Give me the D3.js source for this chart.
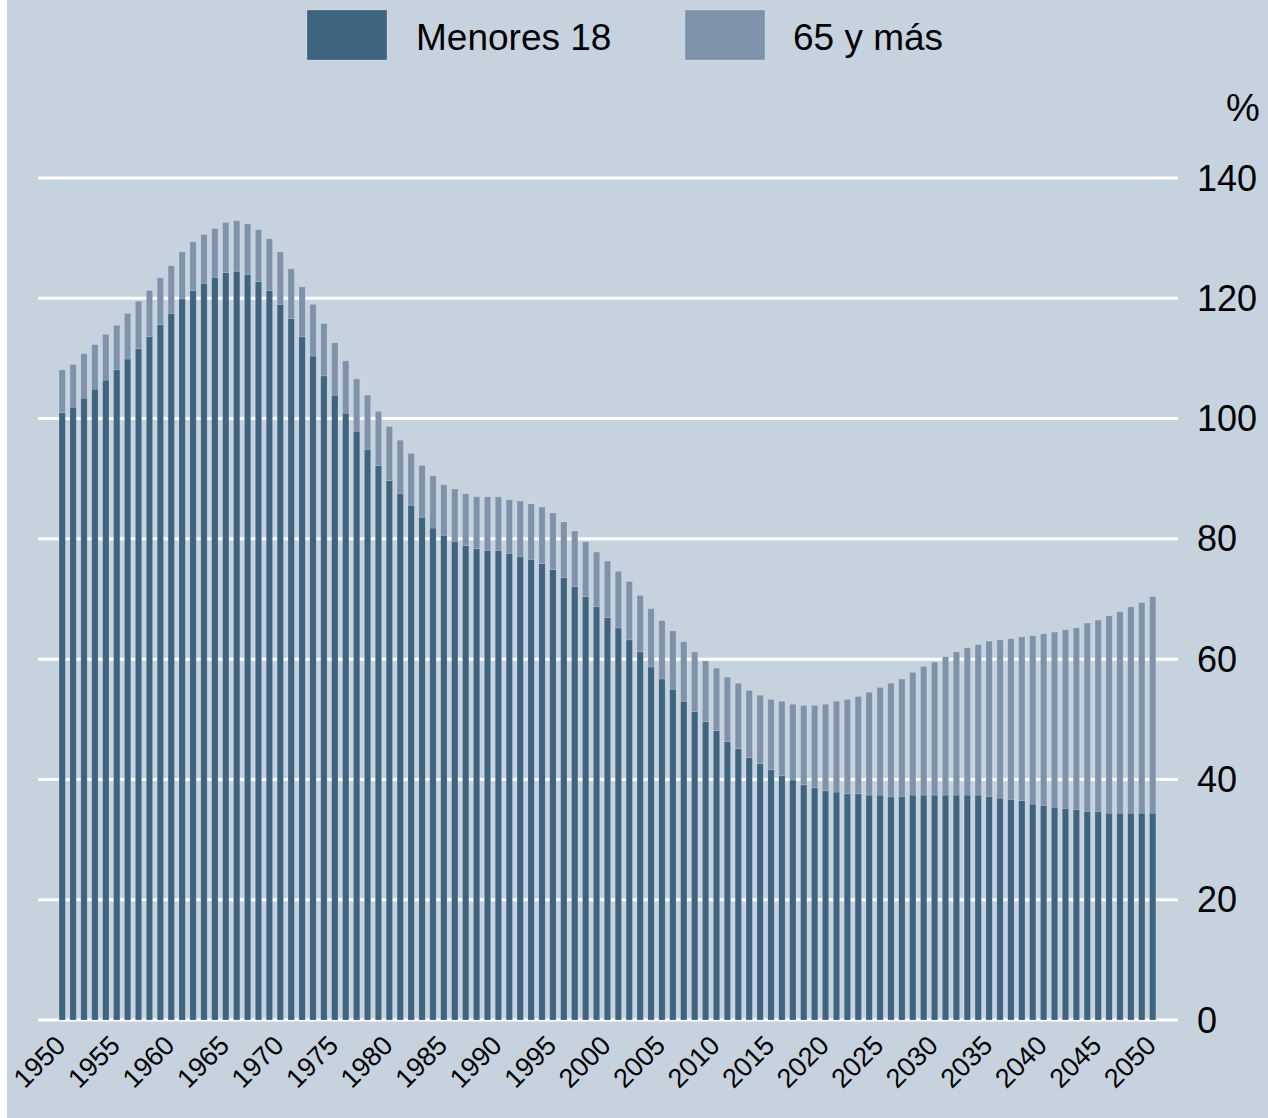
<!DOCTYPE html>
<html>
<head>
<meta charset="utf-8">
<script src="https://cdn.jsdelivr.net/npm/d3@7"></script>
<style>
  html, body { margin: 0; padding: 0; background: #ffffff; }
  svg { display: block; font-family: "Liberation Sans", Arial, sans-serif; }
</style>
</head>
<body>
<svg id="chart" width="1268" height="1118"></svg>
<script>
const years = d3.range(1950, 2051);
const seriesNames = ["Menores 18", "65 y más"];
const menores18 = [
  101.0,101.9,103.4,104.9,106.4,108.1,109.9,111.6,113.6,115.6,
  117.5,119.9,121.3,122.5,123.5,124.3,124.5,124.0,122.8,121.3,
  119.0,116.6,113.6,110.4,107.1,103.9,100.9,97.9,94.9,92.2,
  89.7,87.5,85.6,83.6,81.8,80.6,79.6,78.9,78.4,78.1,
  78.1,77.6,77.1,76.6,75.9,74.9,73.6,72.1,70.4,68.7,
  66.9,65.2,63.2,61.2,58.7,56.7,55.0,53.0,51.3,49.6,
  48.1,46.3,45.1,43.6,42.6,41.6,40.6,39.9,39.1,38.6,
  38.1,37.9,37.6,37.6,37.4,37.4,37.1,37.2,37.4,37.4,
  37.4,37.4,37.4,37.4,37.4,37.2,36.9,36.7,36.5,35.9,
  35.7,35.4,35.2,35.0,34.7,34.7,34.4,34.4,34.4,34.4,
  34.4
];
const mayores65 = [
  7.1,7.1,7.4,7.4,7.6,7.4,7.6,7.9,7.7,7.8,
  7.9,7.8,8.1,8.1,8.1,8.3,8.4,8.4,8.6,8.6,
  8.7,8.3,8.3,8.6,8.7,8.7,8.7,8.7,9.0,9.0,
  9.0,8.9,8.6,8.6,8.7,8.4,8.7,8.6,8.6,8.9,
  8.9,8.9,9.2,9.2,9.4,9.4,9.2,9.2,9.1,9.1,
  9.4,9.4,9.7,9.4,9.7,9.7,9.7,9.9,9.9,10.1,
  10.4,10.7,10.9,11.2,11.4,11.7,12.4,12.6,13.2,13.7,
  14.4,15.1,15.7,16.2,17.1,17.9,18.9,19.5,20.4,21.4,
  22.1,23.0,23.8,24.5,25.0,25.8,26.3,26.7,27.2,28.0,
  28.5,29.1,29.7,30.2,31.3,31.8,32.8,33.5,34.3,35.0,
  36.0
];
const yTicks = [0, 20, 40, 60, 80, 100, 120, 140];
const xTickYears = d3.range(1950, 2051, 5);
const unitLabel = "%";

const colors = { dark: "#3f6480", light: "#7e93aa", bg: "#c6d3df" };

const svg = d3.select("#chart");
svg.append("rect").attr("x", 7).attr("y", 0).attr("width", 1261).attr("height", 1118).attr("fill", colors.bg);

const table = years.map((y, i) => ({ year: y, menores: menores18[i], mayores: mayores65[i] }));
const stack = d3.stack().keys(["menores", "mayores"]);
const stacked = stack(table);

const x = d3.scaleBand().domain(years).range([56.75, 1158.15]).paddingInner(0.42).paddingOuter(0.21);
const y = d3.scaleLinear().domain([0, 140]).range([1020, 178]);

// gridlines
svg.append("g").selectAll("line").data(yTicks).join("line")
  .attr("x1", 38).attr("x2", 1178)
  .attr("y1", d => y(d)).attr("y2", d => y(d))
  .attr("stroke", "#ffffff").attr("stroke-width", 3);

// y labels (right)
svg.append("g").selectAll("text").data(yTicks).join("text")
  .attr("x", 1197).attr("y", d => y(d))
  .attr("dy", "0.35em")
  .attr("font-size", 36).attr("fill", "#000")
  .text(d => d);

svg.append("text").attr("x", 1226).attr("y", 108).attr("dy", "0.35em")
  .attr("font-size", 38).attr("fill", "#000").text(unitLabel);

// bars
const fills = [colors.dark, colors.light];
svg.append("g").selectAll("g").data(stacked).join("g")
  .attr("fill", (d, i) => fills[i])
  .selectAll("rect").data(d => d).join("rect")
  .attr("x", d => x(d.data.year))
  .attr("width", x.bandwidth())
  .attr("y", d => y(d[1]))
  .attr("height", d => y(d[0]) - y(d[1]))
  .attr("stroke", "rgba(255,255,255,0.25)")
  .attr("stroke-width", 0.6);

// x labels
svg.append("g").selectAll("text").data(xTickYears).join("text")
  .attr("transform", d => `translate(${x(d) + x.bandwidth() / 2 + 5},1047) rotate(-45)`)
  .attr("text-anchor", "end")
  .attr("font-size", 27).attr("fill", "#000")
  .text(d => d);

// legend
const legend = [
  { name: seriesNames[0], color: colors.dark, rx: 307, tx: 416 },
  { name: seriesNames[1], color: colors.light, rx: 685, tx: 793 }
];
const lg = svg.append("g");
legend.forEach(l => {
  lg.append("rect").attr("x", l.rx).attr("y", 10).attr("width", 80).attr("height", 50)
    .attr("fill", l.color).attr("stroke", "rgba(255,255,255,0.2)");
  lg.append("text").attr("x", l.tx).attr("y", 37).attr("dy", "0.35em")
    .attr("font-size", 37).attr("fill", "#000").text(l.name);
});
</script>
</body>
</html>
